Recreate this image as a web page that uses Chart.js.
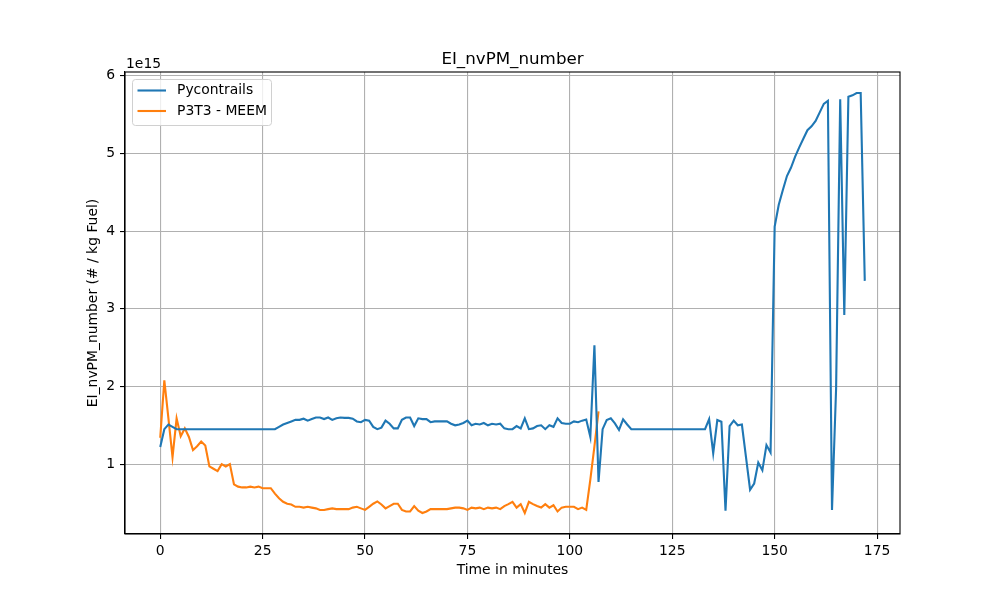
<!DOCTYPE html>
<html>
<head>
<meta charset="utf-8">
<script src="https://cdn.jsdelivr.net/npm/chart.js@4.4.1/dist/chart.umd.min.js"></script>
<style>
  html, body { margin: 0; padding: 0; background: #fff; }
  #wrap { width: 1000px; height: 600px; }
</style>
</head>
<body>
<div id="wrap"><canvas id="eiChart" width="1000" height="600"></canvas></div>
<script>
// tick positions
const xTicks = [0, 25, 50, 75, 100, 125, 150, 175];
const yTicks = [1, 2, 3, 4, 5, 6];

// EI_nvPM_number, one value per minute, in units of 1e15 / kg fuel
const pycontrails = [
  1.22, 1.45, 1.51, 1.48, 1.45, 1.45, 1.45, 1.45, 1.45, 1.45,
  1.45, 1.45, 1.45, 1.45, 1.45, 1.45, 1.45, 1.45, 1.45, 1.45,
  1.45, 1.45, 1.45, 1.45, 1.45, 1.45, 1.45, 1.45, 1.45, 1.48,
  1.51, 1.53, 1.55, 1.57, 1.57, 1.585, 1.56, 1.58, 1.60, 1.60,
  1.58, 1.60, 1.57, 1.59, 1.60, 1.595, 1.595, 1.585, 1.55, 1.54,
  1.57, 1.56, 1.48, 1.45, 1.47, 1.56, 1.52, 1.46, 1.46, 1.57,
  1.60, 1.60, 1.49, 1.59, 1.58, 1.58, 1.54, 1.55, 1.55, 1.55,
  1.55, 1.52, 1.50, 1.51, 1.53, 1.56, 1.50, 1.52, 1.51, 1.53,
  1.50, 1.52, 1.51, 1.52, 1.46, 1.45, 1.45, 1.49, 1.46, 1.59,
  1.45, 1.46, 1.49, 1.50, 1.45, 1.50, 1.48, 1.59, 1.53, 1.52,
  1.52, 1.55, 1.54, 1.56, 1.575, 1.35, 2.53, 0.77, 1.45, 1.567,
  1.589, 1.524, 1.44, 1.576, 1.51, 1.45, 1.45, 1.45, 1.45, 1.45,
  1.45, 1.45, 1.45, 1.45, 1.45, 1.45, 1.45, 1.45, 1.45, 1.45,
  1.45, 1.45, 1.45, 1.45, 1.58, 1.14, 1.567, 1.545, 0.40, 1.49,
  1.56, 1.50, 1.51, 1.09, 0.67, 0.75, 1.02, 0.92, 1.245, 1.15,
  4.06, 4.34, 4.53, 4.71, 4.82, 4.96, 5.08, 5.19, 5.30, 5.35,
  5.42, 5.53, 5.64, 5.68, 0.41, 1.975, 5.70, 2.92, 5.73, 5.75,
  5.78, 5.78, 3.36
];

const p3t3 = [
  1.34, 2.08, 1.59, 1.09, 1.59, 1.36, 1.46, 1.35, 1.18, 1.23,
  1.29, 1.24, 0.97, 0.94, 0.91, 1.00, 0.97, 1.00, 0.74, 0.71,
  0.70, 0.70, 0.71, 0.70, 0.71, 0.69, 0.69, 0.69, 0.62, 0.56,
  0.515, 0.49, 0.48, 0.45, 0.45, 0.44, 0.45, 0.44, 0.43, 0.41,
  0.41, 0.42, 0.43, 0.42, 0.42, 0.42, 0.42, 0.44, 0.45, 0.43,
  0.41, 0.45, 0.49, 0.52, 0.48, 0.43, 0.46, 0.49, 0.49, 0.41,
  0.39, 0.39, 0.46, 0.40, 0.37, 0.39, 0.42, 0.42, 0.42, 0.42,
  0.42, 0.43, 0.44, 0.44, 0.43, 0.41, 0.44, 0.43, 0.44, 0.42,
  0.44, 0.43, 0.44, 0.42, 0.46, 0.485, 0.515, 0.44, 0.485, 0.37,
  0.515, 0.485, 0.46, 0.44, 0.485, 0.44, 0.47, 0.39, 0.44, 0.45,
  0.45, 0.45, 0.42, 0.44, 0.41, 0.80, 1.23, 1.68
];

const seriesNames = ['Pycontrails', 'P3T3 - MEEM'];
const seriesColors = ['#1f77b4', '#ff7f0e'];

function toPoints(values) {
  return values.map((v, i) => ({ x: i, y: v }));
}

const FONT = '"DejaVu Sans", sans-serif';
Chart.defaults.font.family = FONT;
Chart.defaults.color = '#000';

// matplotlib-like frame, title, labels and legend
const decorPlugin = {
  id: 'decor',
  afterDraw(chart) {
    const ctx = chart.ctx;
    const a = chart.chartArea;
    ctx.save();
    ctx.strokeStyle = '#000';
    ctx.lineWidth = 1.1;
    ctx.strokeRect(a.left, a.top, a.right - a.left, a.bottom - a.top);

    ctx.fillStyle = '#000';
    ctx.font = '16.7px ' + FONT;
    ctx.textAlign = 'center';
    ctx.textBaseline = 'alphabetic';
    ctx.fillText('EI_nvPM_number', (a.left + a.right) / 2, 64);

    ctx.font = '13.9px ' + FONT;
    ctx.fillText('Time in minutes', (a.left + a.right) / 2, 574);

    ctx.textAlign = 'left';
    ctx.fillText('1e15', a.left + 1, 68);

    ctx.save();
    ctx.translate(97, (a.top + a.bottom) / 2);
    ctx.rotate(-Math.PI / 2);
    ctx.textAlign = 'center';
    ctx.textBaseline = 'alphabetic';
    ctx.fillText('EI_nvPM_number (# / kg Fuel)', 0, 0);
    ctx.restore();

    // legend
    const lx = 132.5, ly = 79.5, lw = 139, lh = 46;
    ctx.beginPath();
    ctx.roundRect(lx, ly, lw, lh, 3);
    ctx.fillStyle = 'rgba(255,255,255,0.8)';
    ctx.fill();
    ctx.strokeStyle = '#d0d0d0';
    ctx.lineWidth = 1;
    ctx.stroke();
    seriesNames.forEach((name, i) => {
      const y = 90.5 + i * 20.5;
      ctx.beginPath();
      ctx.moveTo(137.5, y);
      ctx.lineTo(166, y);
      ctx.strokeStyle = seriesColors[i];
      ctx.lineWidth = 2.1;
      ctx.stroke();
      ctx.fillStyle = '#000';
      ctx.textAlign = 'left';
      ctx.textBaseline = 'middle';
      ctx.font = '13.9px ' + FONT;
      ctx.fillText(name, 177, y);
    });
    ctx.restore();
  }
};

new Chart(document.getElementById('eiChart').getContext('2d'), {
  type: 'line',
  data: {
    datasets: [
      {
        label: seriesNames[0],
        data: toPoints(pycontrails),
        borderColor: seriesColors[0],
        borderWidth: 2.1,
        pointRadius: 0,
        tension: 0,
        fill: false
      },
      {
        label: seriesNames[1],
        data: toPoints(p3t3),
        borderColor: seriesColors[1],
        borderWidth: 2.1,
        pointRadius: 0,
        tension: 0,
        fill: false
      }
    ]
  },
  options: {
    responsive: false,
    animation: false,
    layout: { padding: { top: 72, right: 100, bottom: 0, left: 0 } },
    plugins: {
      legend: { display: false },
      title: { display: false },
      tooltip: { enabled: false }
    },
    scales: {
      x: {
        type: 'linear',
        min: -8.6,
        max: 180.6,
        afterBuildTicks: s => { s.ticks = xTicks.map(v => ({ value: v })); },
        afterFit: s => { s.height = 66; },
        grid: { color: '#b0b0b0', lineWidth: 1.1, tickColor: '#000', tickLength: 5 },
        border: { display: true, color: '#000', width: 1.1 },
        ticks: { font: { size: 13.9 }, padding: 4, maxRotation: 0, autoSkip: false }
      },
      y: {
        type: 'linear',
        min: 0.1,
        max: 6.05,
        afterBuildTicks: s => { s.ticks = yTicks.map(v => ({ value: v })); },
        afterFit: s => { s.width = 125; },
        grid: { color: '#b0b0b0', lineWidth: 1.1, tickColor: '#000', tickLength: 5 },
        border: { display: true, color: '#000', width: 1.1 },
        ticks: { font: { size: 13.9 }, padding: 5, autoSkip: false }
      }
    }
  },
  plugins: [decorPlugin]
});
</script>
</body>
</html>
